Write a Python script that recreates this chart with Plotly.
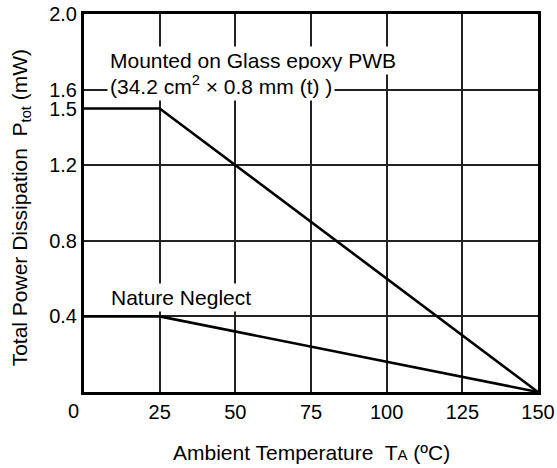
import plotly.graph_objects as go

# Data
temp_mounted = [0, 25, 150]
power_mounted = [1.5, 1.5, 0.0]
temp_nature = [0, 25, 150]
power_nature = [0.4, 0.4, 0.0]

x_tickvals = [0, 25, 50, 75, 100, 125, 150]
x_ticktext = ["", "25", "50", "75", "100", "125", "150"]
y_tickvals = [0.4, 0.8, 1.2, 1.5, 1.6, 2.0]
y_ticktext = ["0.4", "0.8", "1.2", "1.5", "1.6", "2.0"]

FONT = "Liberation Sans, Arial, Helvetica, sans-serif"
FS = 21
TFS = 20

fig = go.Figure()
fig.add_trace(go.Scatter(x=temp_mounted, y=power_mounted, mode="lines",
                         line=dict(color="black", width=2.6), showlegend=False,
                         cliponaxis=False))
fig.add_trace(go.Scatter(x=temp_nature, y=power_nature, mode="lines",
                         line=dict(color="black", width=2.6), showlegend=False,
                         cliponaxis=False))

fig.add_annotation(x=7.5, y=1.755, xref="x", yref="y", xanchor="left", yanchor="middle",
                   text="Mounted on Glass epoxy PWB", showarrow=False,
                   bgcolor="white", borderpad=2, font=dict(size=FS, color="black", family=FONT))
fig.add_annotation(x=7.5, y=1.625, xref="x", yref="y", xanchor="left", yanchor="middle",
                   text="(34.2 cm<sup>2</sup> × 0.8 mm (t) )", showarrow=False,
                   bgcolor="white", borderpad=2, font=dict(size=FS, color="black", family=FONT))
fig.add_annotation(x=8.0, y=0.5, xref="x", yref="y", xanchor="left", yanchor="middle",
                   text="Nature Neglect", showarrow=False,
                   bgcolor="white", borderpad=2, font=dict(size=FS, color="black", family=FONT))
# the "0" label of the x axis sits a little left of the axis
fig.add_annotation(x=0, y=0, xref="x", yref="paper", xanchor="center", yanchor="top",
                   xshift=-11, yshift=-6, text="0", showarrow=False,
                   font=dict(size=TFS, color="black", family=FONT))
# axis titles
fig.add_annotation(x=-0.14, y=0.487, xref="paper", yref="paper", xanchor="center", yanchor="middle",
                   textangle=-90, text="Total Power Dissipation  P<sub>tot</sub> (mW)", showarrow=False,
                   font=dict(size=FS, color="black", family=FONT))
fig.add_annotation(x=0.5, y=-0.159, xref="paper", yref="paper", xanchor="center", yanchor="middle",
                   text="Ambient Temperature  T<span style='font-size:15px'>A</span> (ºC)", showarrow=False,
                   font=dict(size=FS, color="black", family=FONT))

fig.update_layout(
    width=557, height=468,
    margin=dict(l=84, r=19, t=14, b=76),
    paper_bgcolor="white", plot_bgcolor="white",
    font=dict(family=FONT, size=TFS, color="black"),
    xaxis=dict(range=[0, 150], tickvals=x_tickvals, ticktext=x_ticktext,
               showgrid=False, zeroline=False, ticks="", automargin=False,
               ticklabeloverflow="allow",
               showline=True, linecolor="black", linewidth=3, mirror=True,
               tickfont=dict(size=TFS),
               minor=dict(tickvals=[25, 50, 75, 100, 125], showgrid=True,
                          gridcolor="#222", gridwidth=1.5, ticks="")),
    yaxis=dict(range=[0, 2.0], tickvals=y_tickvals, ticktext=y_ticktext,
               showgrid=False, zeroline=False, ticks="", automargin=False,
               ticklabeloverflow="allow",
               showline=True, linecolor="black", linewidth=3, mirror=True,
               tickfont=dict(size=TFS),
               minor=dict(tickvals=[0.4, 0.8, 1.2, 1.6], showgrid=True,
                          gridcolor="#222", gridwidth=1.5, ticks="")),
)

fig.write_html("out.html", config={"displayModeBar": False},
               post_script="document.body.style.margin='0';")
